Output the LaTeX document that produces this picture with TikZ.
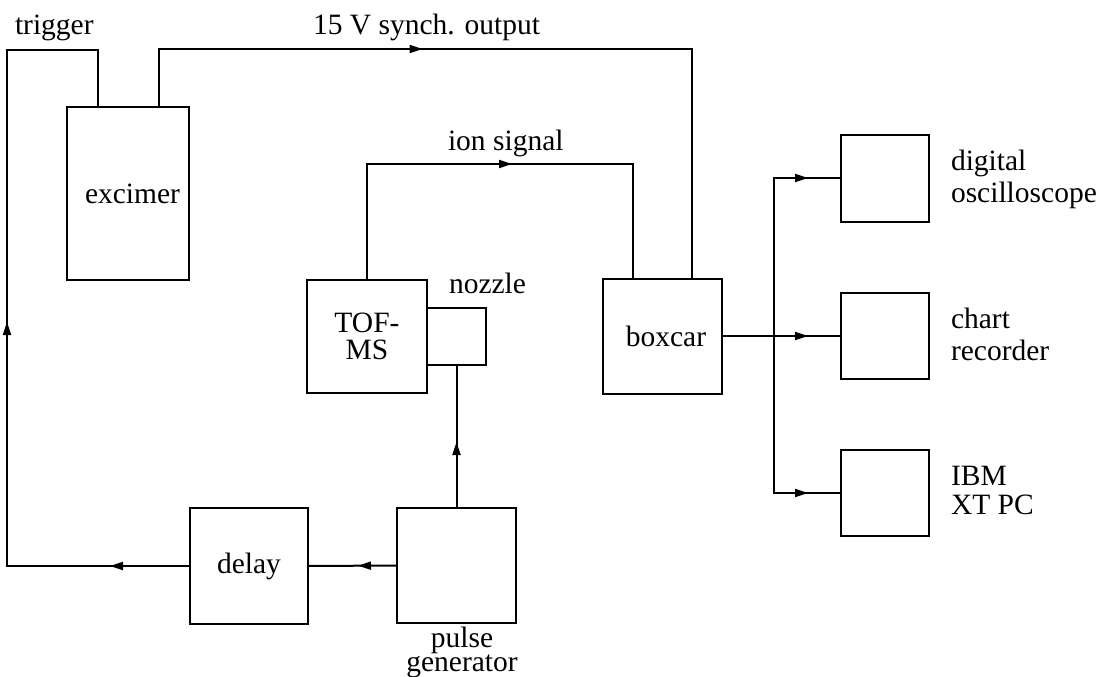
\documentclass[tikz,border=0pt]{standalone}
\usepackage{fontspec}
\setmainfont{Liberation Serif}
\usetikzlibrary{arrows.meta,decorations.markings,calc}
\newcommand\lblfont{\fontsize{29.5}{31}\selectfont}
\begin{document}
\begin{tikzpicture}[x=1pt,y=-1pt,line width=2pt,
  box/.style={draw,line width=2pt,inner sep=0pt,outer sep=0pt,font=\lblfont},
  lbl/.style={inner sep=0pt,outer sep=0pt,font=\lblfont},
  arrowat/.style={postaction={decorate,decoration={markings,
      mark=at position #1 with {\arrow{Triangle[length=13pt,width=8pt]}}}}}
]
\useasboundingbox (0,0) rectangle (1098,677);

% boxes
\node[box,minimum width=122pt,minimum height=173pt] (excimer) at (128,193.5) {\hspace*{9pt}excimer};
\node[box,minimum width=120pt,minimum height=113pt,align=center,font=\fontsize{29.5}{26.5}\selectfont] (tof) at (367,336.5) {TOF-\\MS};
\node[box,minimum width=59pt,minimum height=57pt] (nozzle) at (456.5,336.5) {};
\node[box,minimum width=119pt,minimum height=115pt] (boxcar) at (662.5,336) {\hspace*{7pt}boxcar};
\node[box,minimum width=118pt,minimum height=116pt] (delay) at (249,566) {delay};
\node[box,minimum width=119pt,minimum height=115pt] (pulse) at (456.5,565.5) {};
\node[box,minimum width=88pt,minimum height=87pt] (osc) at (884.5,178) {};
\node[box,minimum width=88pt,minimum height=86pt] (chart) at (884.5,336) {};
\node[box,minimum width=88pt,minimum height=86pt] (ibm) at (885,493) {};

% labels
\node[lbl,anchor=base west] (ltrig) at (15,35) {trigger};
\node[lbl,anchor=base west] (lsync) at (313,35) {15 V synch. output};
\node[lbl,anchor=base west] (lion) at (448,150) {ion signal};
\node[lbl,anchor=base west] (lnoz) at (449,293) {nozzle};
\node[lbl,align=center,font=\fontsize{29.5}{22}\selectfont] (lpulse) at (462,652) {pulse\\generator};
\node[lbl,anchor=west,align=left,font=\fontsize{29.5}{32}\selectfont] (losc) at (951,179) {digital\\oscilloscope};
\node[lbl,anchor=west,align=left,font=\fontsize{29.5}{32}\selectfont] (lchart) at (951,334) {chart\\recorder};
\node[lbl,anchor=west,align=left,font=\fontsize{29.5}{29}\selectfont] (libm) at (951,490) {IBM\\XT PC};

% connection points
\coordinate (ex1) at ($(excimer.north west)!0.25!(excimer.north east)$);
\coordinate (ex2) at ($(excimer.north west)!0.75!(excimer.north east)$);
\coordinate (bx1) at ($(boxcar.north west)!0.25!(boxcar.north east)$);
\coordinate (bx2) at ($(boxcar.north west)!0.75!(boxcar.north east)$);
\coordinate (tl) at (7,50);
\coordinate (bus) at (774,336);

% connectors
\draw[arrowat=80pt,arrowat=427pt] (delay.west) -| (tl) -| (ex1);
\draw[arrowat=322pt] (ex2) -- ++(0,-58) -| (bx2);
\draw[arrowat=261pt] (tof.north) -- ++(0,-116) -| (bx1);
\draw[arrowat=39pt] (pulse.west) -- (delay.east);
\draw[arrowat=66pt] (pulse.north) -- (nozzle.south);
\draw[arrowat=86pt] (boxcar.east) -- (chart.west);
\draw[arrowat=192pt] (bus) |- (osc.west);
\draw[arrowat=191pt] (bus) |- (ibm.west);
\end{tikzpicture}
\end{document}
